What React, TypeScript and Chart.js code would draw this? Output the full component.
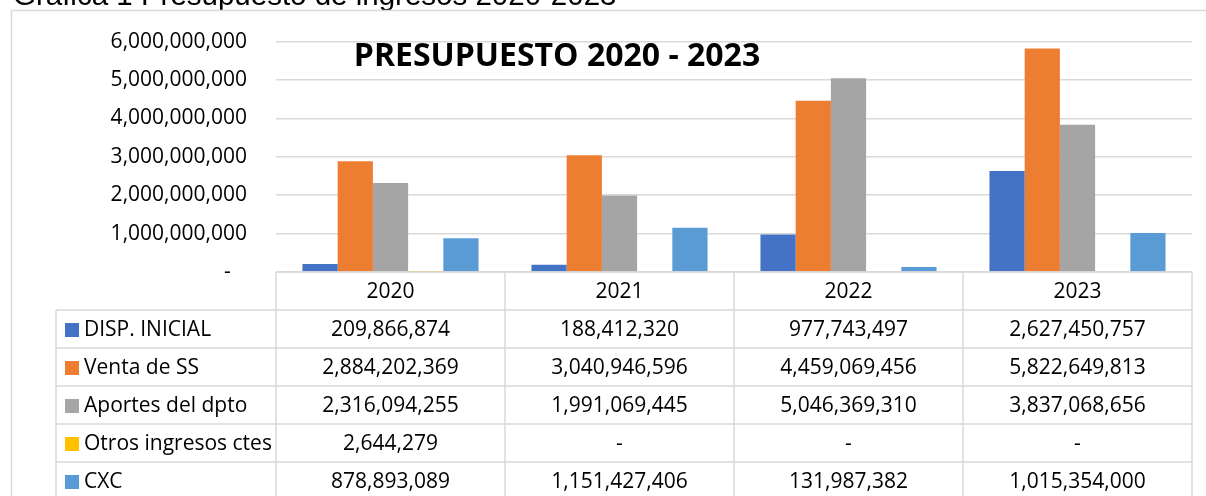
import { useEffect, useRef } from "react";
import { Chart, registerables } from "chart.js";

Chart.register(...registerables);

const categories = ["2020", "2021", "2022", "2023"];
const seriesNames = ["DISP. INICIAL", "Venta de SS", "Aportes del dpto", "Otros ingresos ctes", "CXC"];
const dispInicial = [209866874, 188412320, 977743497, 2627450757];
const ventaSS = [2884202369, 3040946596, 4459069456, 5822649813];
const aportesDpto = [2316094255, 1991069445, 5046369310, 3837068656];
const otrosIngresos = [2644279, 0, 0, 0];
const cxc = [878893089, 1151427406, 131987382, 1015354000];
const seriesColors = ["#4472C4", "#ED7D31", "#A5A5A5", "#FFC000", "#5B9BD5"];
const yMax = 6000000000;
const yStep = 1000000000;
const chartTitle = "PRESUPUESTO 2020 - 2023";
const caption = "Gráfica 1 Presupuesto de ingresos 2020-2023";

const allSeries = [dispInicial, ventaSS, aportesDpto, otrosIngresos, cxc];

const fmt = (v: number) => (v === 0 ? "-" : v.toLocaleString("en-US"));

const FONT = "'Open Sans', sans-serif";
const GRID = "#d9d9d9";

const tablePlugin = {
  id: "dataTable",
  beforeDraw(chart: any) {
    const ctx = chart.ctx;
    ctx.save();
    ctx.fillStyle = "#ffffff";
    ctx.fillRect(0, 0, chart.width, chart.height);
    // caption above the frame
    ctx.fillStyle = "#000000";
    ctx.font = "29.5px 'Liberation Sans', Arial, sans-serif";
    ctx.textAlign = "left";
    ctx.textBaseline = "alphabetic";
    ctx.fillText(caption, 13, 5);
    // frame
    ctx.strokeStyle = GRID;
    ctx.lineWidth = 1.5;
    ctx.strokeRect(11.5, 10.5, chart.width + 20, chart.height + 40);
    ctx.restore();
  },
  afterDraw(chart: any) {
    const ctx = chart.ctx;
    const area = chart.chartArea;
    const xs = chart.scales.x;
    const n = categories.length;
    const colW = (area.right - area.left) / n;
    const rowH = 38;
    const top = area.bottom;
    const labelLeft = 56;
    const bottom = chart.height + 10;
    ctx.save();
    ctx.strokeStyle = GRID;
    ctx.lineWidth = 1.5;
    ctx.beginPath();
    // header top line
    ctx.moveTo(area.left, top);
    ctx.lineTo(area.right, top);
    // vertical lines for columns
    for (let i = 0; i < n; i++) {
      const cx = xs.getPixelForValue(i);
      const l = cx - colW / 2;
      ctx.moveTo(l, top);
      ctx.lineTo(l, bottom);
      if (i === n - 1) {
        ctx.moveTo(cx + colW / 2, top);
        ctx.lineTo(cx + colW / 2, bottom);
      }
    }
    // label column left line
    ctx.moveTo(labelLeft, top + rowH);
    ctx.lineTo(labelLeft, bottom);
    // row lines
    for (let k = 1; k <= seriesNames.length + 1; k++) {
      const y = top + k * rowH;
      ctx.moveTo(labelLeft, y);
      ctx.lineTo(area.right, y);
    }
    ctx.stroke();

    ctx.fillStyle = "#000000";
    ctx.font = `21px ${FONT}`;
    ctx.textBaseline = "middle";
    ctx.textAlign = "center";
    for (let i = 0; i < n; i++) {
      const cx = xs.getPixelForValue(i);
      ctx.fillText(categories[i], cx, top + rowH / 2 + 1);
    }
    for (let s = 0; s < seriesNames.length; s++) {
      const cy = top + rowH * (s + 1) + rowH / 2 + 1;
      ctx.fillStyle = seriesColors[s];
      ctx.fillRect(65, cy - 7, 14, 14);
      ctx.fillStyle = "#000000";
      ctx.textAlign = "left";
      ctx.fillText(seriesNames[s], 84, cy);
      ctx.textAlign = "center";
      for (let i = 0; i < n; i++) {
        ctx.fillText(fmt(allSeries[s][i]), xs.getPixelForValue(i), cy);
      }
    }

    // chart title
    ctx.font = `bold 32px ${FONT}`;
    ctx.textAlign = "center";
    ctx.textBaseline = "middle";
    ctx.fillText(chartTitle, 557, 57);
    ctx.restore();
  },
};

export default function App() {
  const ref = useRef<HTMLCanvasElement | null>(null);

  useEffect(() => {
    document.body.style.margin = "0";
    if (!ref.current) return;
    const chart = new Chart(ref.current, {
      type: "bar",
      data: {
        labels: categories,
        datasets: seriesNames.map((name, i) => ({
          label: name,
          data: allSeries[i],
          backgroundColor: seriesColors[i],
          borderWidth: 0,
          categoryPercentage: 0.769,
          barPercentage: 1,
        })),
      },
      options: {
        animation: false,
        responsive: false,
        events: [],
        layout: { padding: { left: 0, right: 14, top: 40, bottom: 224 } },
        plugins: {
          legend: { display: false },
          title: { display: false },
          tooltip: { enabled: false },
        },
        scales: {
          x: {
            display: false,
            grid: { display: false },
          },
          y: {
            min: 0,
            max: yMax,
            border: { display: false },
            grid: { color: GRID, lineWidth: 1.5, drawTicks: false },
            afterFit: (scale: any) => {
              scale.width = 276;
            },
            ticks: {
              stepSize: yStep,
              padding: 29,
              color: "#000000",
              font: { family: FONT, size: 21 },
              callback: (v: any) => (Number(v) === 0 ? "-   " : Number(v).toLocaleString("en-US")),
            },
          },
        },
      },
      plugins: [tablePlugin],
    });
    return () => chart.destroy();
  }, []);

  return (
    <div style={{ width: 1206, height: 496, overflow: "hidden" }}>
      <canvas ref={ref} width={1206} height={496} style={{ display: "block" }} />
    </div>
  );
}
